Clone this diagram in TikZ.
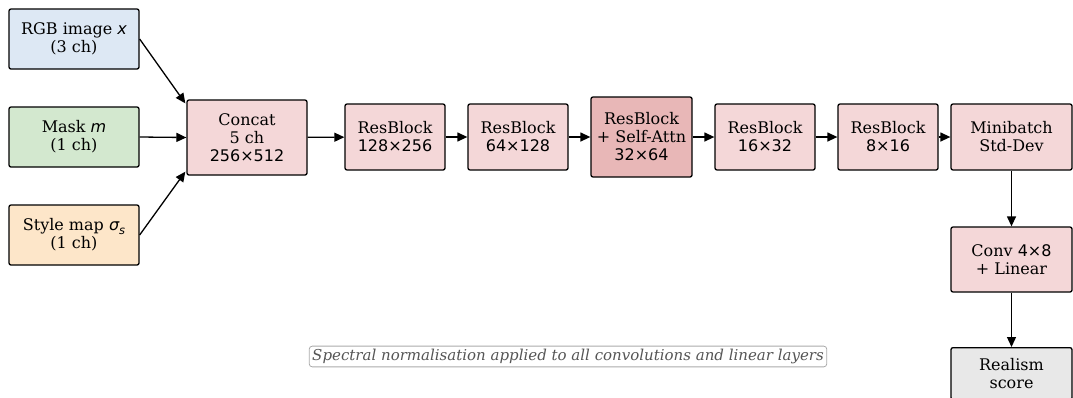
\documentclass[tikz,border=0pt]{standalone}
\usepackage{fontspec}
\setmainfont{DejaVu Serif}
\newfontfamily\dvsans{DejaVu Sans}
\usetikzlibrary{arrows.meta}
\definecolor{cblue}{HTML}{DDE8F4}
\definecolor{cgreen}{HTML}{D3E8CF}
\definecolor{corange}{HTML}{FDE6C9}
\definecolor{cpink}{HTML}{F4D7D8}
\definecolor{cpinkd}{HTML}{E8B7B7}
\definecolor{cgray}{HTML}{E8E8E8}
\definecolor{ctext}{HTML}{555555}
\definecolor{cframe}{HTML}{AAAAAA}
\newcommand{\sm}[1]{{\dvsans #1}}
\begin{document}
\begin{tikzpicture}[x=1pt,y=-1pt,
  blk/.style={draw=black,line width=1.3pt,rounded corners=2pt,align=center,inner sep=0pt,
    font=\fontsize{16}{18}\selectfont},
  arr/.style={line width=1.3pt,-{Triangle[length=10pt,width=9pt]}}]
\useasboundingbox (0,0) rectangle (1073,397);
\node[blk,fill=cblue,minimum width=130pt,minimum height=60pt] (rgb) at (74,39) {RGB image {\dvsans\itshape x}\\(3 ch)};
\node[blk,fill=cgreen,minimum width=130pt,minimum height=60pt] (mask) at (74,137) {Mask {\dvsans\itshape m}\\(1 ch)};
\node[blk,fill=corange,minimum width=130pt,minimum height=60pt] (style) at (74,235) {Style map {\dvsans\itshape σ\raisebox{-0.25em}{\fontsize{11.5}{11.5}\selectfont s}}\\(1 ch)};
\node[blk,fill=cpink,minimum width=120pt,minimum height=75pt] (cat) at (247,137.5) {Concat\\5 ch\\\sm{256×512}};
\node[blk,fill=cpink,minimum width=100pt,minimum height=66pt] (r1) at (395,137) {ResBlock\\\sm{128×256}};
\node[blk,fill=cpink,minimum width=100pt,minimum height=66pt] (r2) at (518,137) {ResBlock\\\sm{64×128}};
\node[blk,fill=cpinkd,minimum width=101pt,minimum height=80pt] (r3) at (641.5,137) {ResBlock\\+ Self-Attn\\\sm{32×64}};
\node[blk,fill=cpink,minimum width=100pt,minimum height=66pt] (r4) at (765,137) {ResBlock\\\sm{16×32}};
\node[blk,fill=cpink,minimum width=100pt,minimum height=66pt] (r5) at (888,137) {ResBlock\\\sm{8×16}};
\node[blk,fill=cpink,minimum width=121pt,minimum height=66pt] (mb) at (1011.5,137) {Minibatch\\Std-Dev};
\node[blk,fill=cpink,minimum width=121pt,minimum height=65pt] (conv) at (1011.5,259.5) {Conv \sm{4×8}\\+ Linear};
\node[blk,fill=cgray,minimum width=121pt,minimum height=52pt,anchor=north] (score) at (1011.5,347) {Realism\\score};
\node[draw=cframe,line width=0.8pt,rounded corners=3pt,text=ctext,inner xsep=3pt,inner ysep=3pt,
  font=\fontsize{15}{17}\selectfont\itshape] (note) at (568,356.5) {Spectral normalisation applied to all convolutions and linear layers};
\coordinate (catnw) at ([xshift=-1pt,yshift=-4pt]cat.north west);
\coordinate (catsw) at ([xshift=-1pt,yshift=4pt]cat.south west);
\draw[arr] (rgb.east) -- (catnw);
\draw[arr] (mask.east) -- (cat.west);
\draw[arr] (style.east) -- (catsw);
\draw[arr] (cat) -- (r1);
\draw[arr] (r1) -- (r2);
\draw[arr] (r2) -- (r3);
\draw[arr] (r3) -- (r4);
\draw[arr] (r4) -- (r5);
\draw[arr] (r5) -- (mb);
\draw[arr] (mb) -- (conv);
\draw[arr] (conv) -- (score);
\end{tikzpicture}
\end{document}
